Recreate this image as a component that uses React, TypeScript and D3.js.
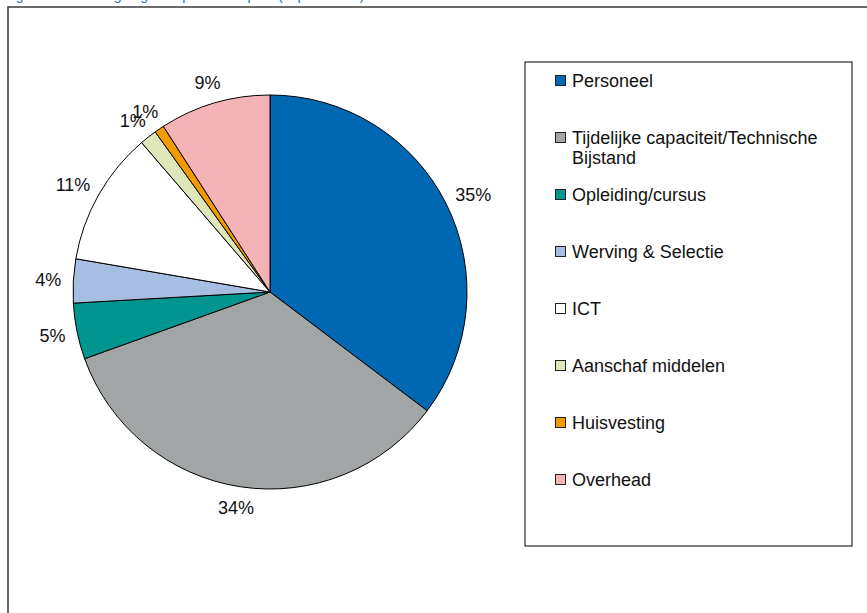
import { useEffect, useRef } from "react";
import * as d3 from "d3";

const categories = [
  "Personeel",
  "Tijdelijke capaciteit/Technische Bijstand",
  "Opleiding/cursus",
  "Werving & Selectie",
  "ICT",
  "Aanschaf middelen",
  "Huisvesting",
  "Overhead",
];
const shares = [35.3, 34.2, 4.6, 3.6, 11.0, 1.4, 0.8, 9.1];
const colors = ["#0067b2", "#a1a5a5", "#00968f", "#a7bee2", "#ffffff", "#dde6b6", "#f39a00", "#f4b4b7"];
// legend text lines (long label wraps in the original)
const legendLines = [
  ["Personeel"],
  ["Tijdelijke capaciteit/Technische", "Bijstand"],
  ["Opleiding/cursus"],
  ["Werving & Selectie"],
  ["ICT"],
  ["Aanschaf middelen"],
  ["Huisvesting"],
  ["Overhead"],
];
const title = "Figuur 2: Verdeling uitgaven per kostenpost (in procenten)";

export default function App() {
  const svgRef = useRef<SVGSVGElement | null>(null);

  useEffect(() => {
    if (!svgRef.current) return;
    const W = 867, H = 613;
    const svg = d3.select(svgRef.current);
    svg.selectAll("*").remove();
    svg.attr("width", W).attr("height", H).attr("viewBox", `0 0 ${W} ${H}`);

    const font = "'Liberation Sans', Arial, sans-serif";

    // cut-off caption above the frame, only descenders peek through
    svg.append("text").attr("x", 4).attr("y", 0)
      .attr("font-family", font).attr("font-size", 14).attr("fill", "#1d6fc2")
      .text(title);

    // chart frame (only left + top visible)
    svg.append("rect").attr("x", 8).attr("y", 7).attr("width", W + 20).attr("height", H + 20)
      .attr("fill", "#fff").attr("stroke", "#3a3a3a").attr("stroke-width", 1.5);

    const cx = 270, cy = 292, r = 197;
    const g = svg.append("g").attr("transform", `translate(${cx},${cy})`);

    const data = categories.map((c, i) => ({ name: c, value: shares[i], color: colors[i] }));
    const pie = d3.pie<(typeof data)[0]>().sort(null).value((d) => d.value);
    const arcs = pie(data);
    const arc = d3.arc<d3.PieArcDatum<(typeof data)[0]>>().innerRadius(0).outerRadius(r);

    g.selectAll("path.slice").data(arcs).enter().append("path")
      .attr("class", "slice")
      .attr("d", arc as any)
      .attr("fill", (d) => d.data.color)
      .attr("stroke", "#000").attr("stroke-width", 1).attr("stroke-linejoin", "round");

    const fs = 18;
    arcs.forEach((d) => {
      const a = (d.startAngle + d.endAngle) / 2;
      const label = `${Math.round(d.data.value)}%`;
      const t = g.append("text")
        .attr("font-family", font).attr("font-size", fs).attr("fill", "#111")
        .attr("text-anchor", "middle").attr("dominant-baseline", "central")
        .text(label);
      const w = (t.node() as SVGTextElement).getComputedTextLength();
      const dist = r + 12;
      const x = Math.sin(a) * dist + Math.sin(a) * w / 2;
      const y = -Math.cos(a) * dist - Math.cos(a) * fs / 2;
      t.attr("x", x).attr("y", y);
    });

    // legend
    const lx = 525, ly = 62, lw = 327, lh = 484;
    svg.append("rect").attr("x", lx).attr("y", ly).attr("width", lw).attr("height", lh)
      .attr("fill", "#fff").attr("stroke", "#000").attr("stroke-width", 1);

    const rowY = d3.scalePoint<number>().domain(d3.range(categories.length)).range([81, 480]);
    legendLines.forEach((lines, i) => {
      const y = rowY(i) as number;
      svg.append("rect").attr("x", 555.5).attr("y", y - 5.5).attr("width", 10).attr("height", 10)
        .attr("fill", colors[i]).attr("stroke", "#222").attr("stroke-width", 1);
      lines.forEach((ln, j) => {
        svg.append("text").attr("x", 572).attr("y", y + j * 20)
          .attr("font-family", font).attr("font-size", fs).attr("fill", "#111")
          .attr("dominant-baseline", "central")
          .text(ln);
      });
    });
  }, []);

  return (
    <>
      <style>{"body{margin:0}"}</style>
      <svg ref={svgRef} style={{ display: "block" }} />
    </>
  );
}
